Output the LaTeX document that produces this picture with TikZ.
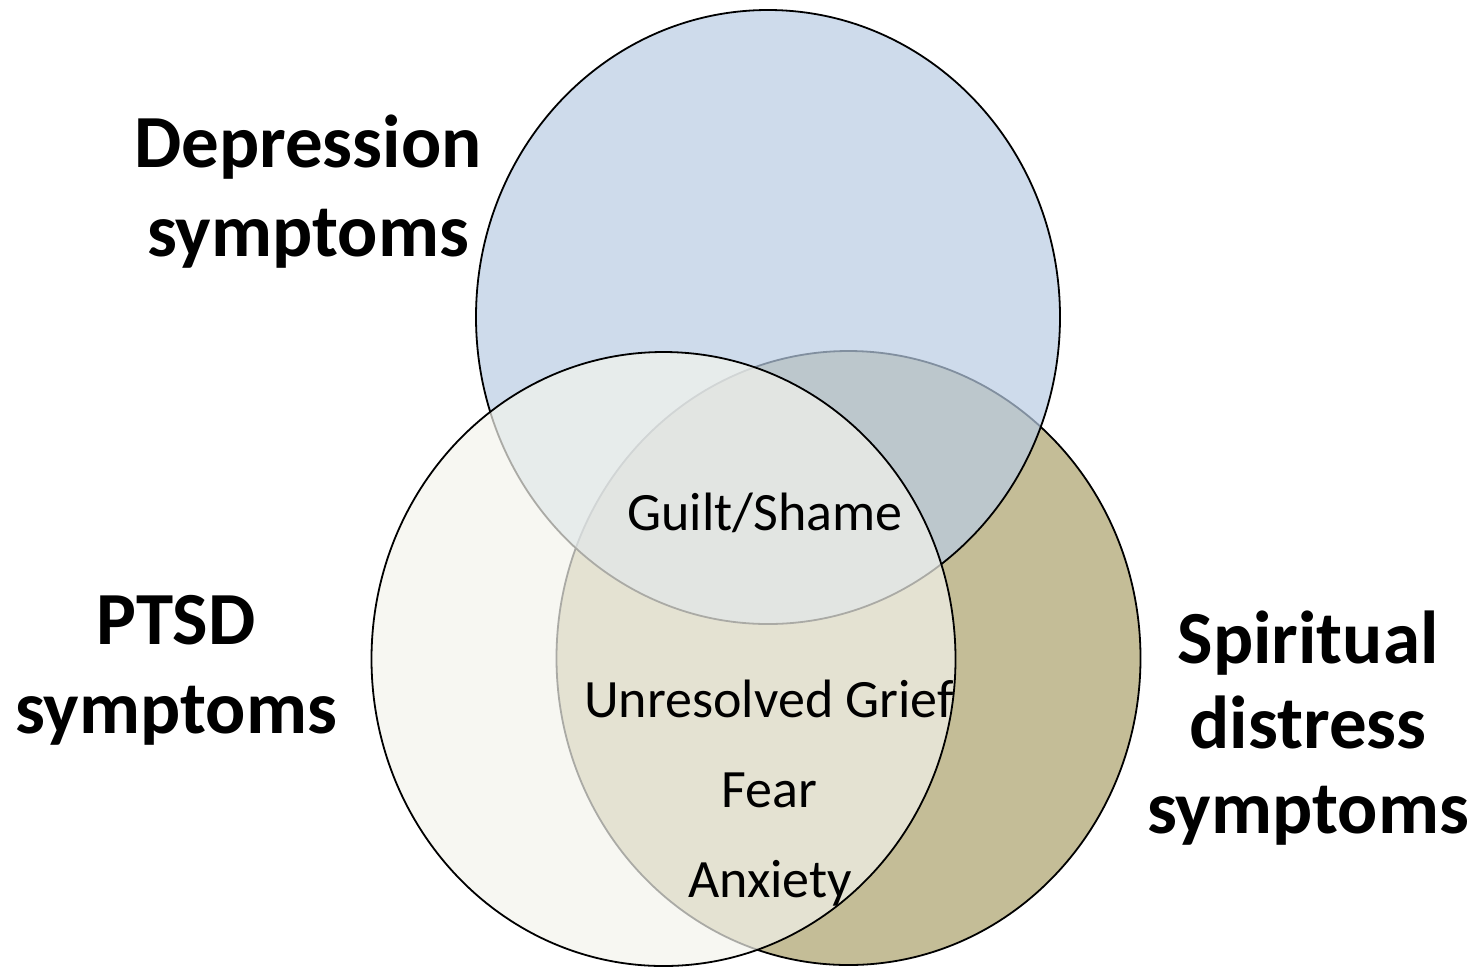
\documentclass[tikz,border=0pt]{standalone}
\usepackage{fontspec}
\setmainfont{Carlito}
\usetikzlibrary{shapes.geometric}
\definecolor{depfill}{RGB}{185,204,227}
\definecolor{ptsdfill}{RGB}{243,243,236}
\definecolor{spirfill}{RGB}{196,189,151}
\tikzset{
  venn/.style={ellipse, draw=black, line width=0.9pt, inner sep=0pt,
    minimum width=292pt, minimum height=307pt},
  biglabel/.style={align=center, anchor=base, inner sep=0pt,
    font=\fontsize{37.5}{44.5}\selectfont\bfseries},
  smalllabel/.style={anchor=base, inner sep=0pt,
    font=\fontsize{27}{32}\selectfont},
}
\begin{document}
\begin{tikzpicture}[x=0.5pt,y=-0.5pt]
\useasboundingbox (0,0) rectangle (1477,966);
\node[venn, fill=spirfill] (spir) at (848.5,658) {};
\node[venn, fill=depfill, fill opacity=0.7] (dep) at (768,317) {};
\node[venn, fill=ptsdfill, fill opacity=0.7] (ptsd) at (663.5,659) {};
\node[biglabel] (deplab) at (308,256) {Depression\\symptoms};
\node[biglabel] (ptsdlab) at (176,733) {PTSD\\symptoms};
\node[biglabel, font=\fontsize{37.5}{42.5}\selectfont\bfseries] (spirlab) at (1308,833) {Spiritual\\distress\\symptoms};
\node[smalllabel] (guilt) at (765,530) {Guilt/Shame};
\node[smalllabel] (grief) at (769,717) {Unresolved Grief};
\node[smalllabel] (fear) at (769,807) {Fear};
\node[smalllabel] (anx) at (770,897) {Anxiety};
\end{tikzpicture}
\end{document}
